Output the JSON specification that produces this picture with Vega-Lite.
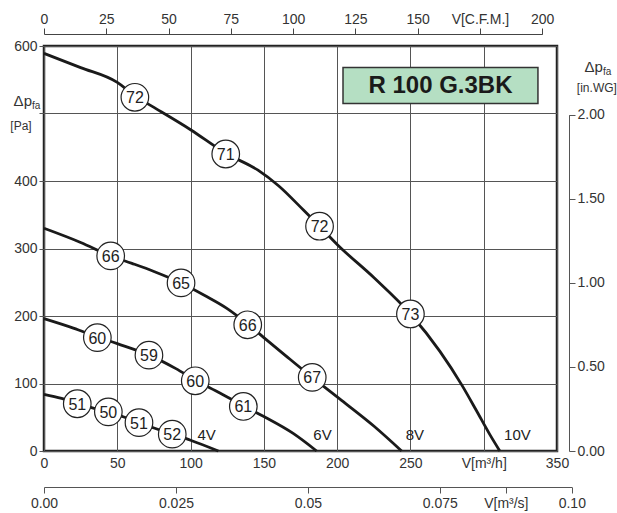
{
  "$schema": "https://vega.github.io/schema/vega-lite/v6.json",
  "width": 513,
  "height": 405,
  "autosize": {"type": "none"},
  "padding": {"left": 44, "top": 46, "right": 60, "bottom": 62},
  "background": "white",
  "config": {
    "view": {"stroke": "#222", "strokeWidth": 2.5},
    "font": "Liberation Sans",
    "axis": {"labelFont": "Liberation Sans", "labelFontSize": 14, "labelColor": "#333", "tickColor": "#444", "domainColor": "#444"}
  },
  "datasets": {
    "curves": [
      {"v": "10V", "q": 0, "p": 589}, {"v": "10V", "q": 25, "p": 568}, {"v": "10V", "q": 50, "p": 546}, {"v": "10V", "q": 62, "p": 526},
      {"v": "10V", "q": 75, "p": 509}, {"v": "10V", "q": 100, "p": 476}, {"v": "10V", "q": 124, "p": 441}, {"v": "10V", "q": 146, "p": 416},
      {"v": "10V", "q": 160, "p": 393}, {"v": "10V", "q": 177, "p": 357}, {"v": "10V", "q": 188, "p": 333}, {"v": "10V", "q": 200, "p": 306},
      {"v": "10V", "q": 225, "p": 257}, {"v": "10V", "q": 250, "p": 203}, {"v": "10V", "q": 270, "p": 148}, {"v": "10V", "q": 285, "p": 98},
      {"v": "10V", "q": 295, "p": 60}, {"v": "10V", "q": 304, "p": 25}, {"v": "10V", "q": 311, "p": 0},
      {"v": "8V", "q": 0, "p": 330}, {"v": "8V", "q": 25, "p": 309}, {"v": "8V", "q": 45.5, "p": 289}, {"v": "8V", "q": 60, "p": 278},
      {"v": "8V", "q": 75, "p": 266}, {"v": "8V", "q": 93.5, "p": 249}, {"v": "8V", "q": 110, "p": 230}, {"v": "8V", "q": 125, "p": 211},
      {"v": "8V", "q": 139, "p": 188}, {"v": "8V", "q": 150, "p": 168}, {"v": "8V", "q": 165, "p": 141}, {"v": "8V", "q": 183, "p": 109},
      {"v": "8V", "q": 203, "p": 75}, {"v": "8V", "q": 225, "p": 37}, {"v": "8V", "q": 244, "p": 0},
      {"v": "6V", "q": 0, "p": 196}, {"v": "6V", "q": 20, "p": 182}, {"v": "6V", "q": 36.4, "p": 169}, {"v": "6V", "q": 50, "p": 159},
      {"v": "6V", "q": 71.6, "p": 142}, {"v": "6V", "q": 90, "p": 122}, {"v": "6V", "q": 103.2, "p": 105}, {"v": "6V", "q": 120, "p": 86},
      {"v": "6V", "q": 136, "p": 67}, {"v": "6V", "q": 150, "p": 51}, {"v": "6V", "q": 170, "p": 26}, {"v": "6V", "q": 186, "p": 0},
      {"v": "4V", "q": 0, "p": 84}, {"v": "4V", "q": 12, "p": 78}, {"v": "4V", "q": 22.7, "p": 70}, {"v": "4V", "q": 33, "p": 64},
      {"v": "4V", "q": 43.9, "p": 58}, {"v": "4V", "q": 55, "p": 50}, {"v": "4V", "q": 64.8, "p": 42}, {"v": "4V", "q": 75, "p": 34},
      {"v": "4V", "q": 87.5, "p": 25}, {"v": "4V", "q": 100, "p": 16}, {"v": "4V", "q": 119, "p": 0}
    ],
    "levels": [
      {"q": 62, "p": 524, "db": "72"}, {"q": 124, "p": 440, "db": "71"}, {"q": 188, "p": 333, "db": "72"}, {"q": 250, "p": 203, "db": "73"},
      {"q": 45.5, "p": 289, "db": "66"}, {"q": 93.5, "p": 249, "db": "65"}, {"q": 139, "p": 187, "db": "66"}, {"q": 183, "p": 109, "db": "67"},
      {"q": 36.4, "p": 168, "db": "60"}, {"q": 71.6, "p": 142, "db": "59"}, {"q": 103.2, "p": 104, "db": "60"}, {"q": 136, "p": 66, "db": "61"},
      {"q": 22.7, "p": 70, "db": "51"}, {"q": 43.9, "p": 58, "db": "50"}, {"q": 64.8, "p": 42, "db": "51"}, {"q": 87.5, "p": 25, "db": "52"}
    ],
    "volts": [
      {"q": 111, "p": 24, "t": "4V"}, {"q": 190, "p": 24, "t": "6V"}, {"q": 253, "p": 24, "t": "8V"}, {"q": 323, "p": 24, "t": "10V"}
    ],
    "box": [{"x1": 204, "x2": 337, "y1": 515, "y2": 568, "t": "R 100 G.3BK", "xm": 270.5, "ym": 541.5}],
    "titlesBig": [{"q": -8.2, "p": 511, "t": "Δp"}, {"q": 381.3, "p": 561.5, "t": "Δp"}],
    "titlesSub": [{"q": -8.2, "p": 507, "t": "fa"}, {"q": 381.3, "p": 557.5, "t": "fa"}],
    "titlesUnit": [{"q": -15.7, "p": 482, "t": "[Pa]"}, {"q": 377.2, "p": 537.8, "t": "[in.WG]"}]
  },
  "layer": [
    {
      "layer": [
        {
          "data": {"name": "box"},
          "mark": {"type": "rect", "fill": "#b5dfc3", "stroke": "#333", "strokeWidth": 1.5},
          "encoding": {
            "x": {"field": "x1", "type": "quantitative", "title": null, "scale": {"domain": [0, 350], "nice": false},
              "axis": {"values": [0, 50, 100, 150, 200, 250, 300, 350], "labelExpr": "datum.value == 300 ? 'V[m³/h]' : datum.label", "ticks": false, "domain": false, "grid": true, "gridColor": "#555", "gridWidth": 1, "labelPadding": 5, "labelFlush": false, "labelOverlap": false}},
            "x2": {"field": "x2"},
            "y": {"field": "y1", "type": "quantitative", "title": null, "scale": {"domain": [0, 600], "nice": false},
              "axis": {"values": [0, 100, 200, 300, 400, 500, 600], "labelExpr": "datum.value == 500 ? '' : datum.label", "ticks": true, "tickSize": 5, "tickColor": "#555", "domain": false, "grid": true, "gridColor": "#555", "gridWidth": 1, "labelPadding": 2, "labelFlush": false, "labelOverlap": false}},
            "y2": {"field": "y2"}
          }
        },
        {
          "data": {"name": "box"},
          "mark": {"type": "text", "fontSize": 24, "fontWeight": "bold", "color": "#1a1a1a", "align": "center", "baseline": "middle", "dy": 1},
          "encoding": {
            "x": {"field": "xm", "type": "quantitative", "title": null},
            "y": {"field": "ym", "type": "quantitative", "title": null},
            "text": {"field": "t"}
          }
        },
        {
          "data": {"name": "curves"},
          "mark": {"type": "line", "color": "#1a1a1a", "strokeWidth": 2.8, "interpolate": "monotone"},
          "encoding": {
            "x": {"field": "q", "type": "quantitative", "title": null},
            "y": {"field": "p", "type": "quantitative", "title": null},
            "detail": {"field": "v"}
          }
        },
        {
          "data": {"name": "levels"},
          "mark": {"type": "point", "shape": "circle", "filled": true, "fill": "white", "stroke": "#222", "strokeWidth": 1.2, "size": 760, "opacity": 1},
          "encoding": {
            "x": {"field": "q", "type": "quantitative", "title": null},
            "y": {"field": "p", "type": "quantitative", "title": null}
          }
        },
        {
          "data": {"name": "levels"},
          "mark": {"type": "text", "fontSize": 16, "color": "#222", "align": "center", "baseline": "middle", "dy": 1},
          "encoding": {
            "x": {"field": "q", "type": "quantitative", "title": null},
            "y": {"field": "p", "type": "quantitative", "title": null},
            "text": {"field": "db"}
          }
        },
        {
          "data": {"name": "volts"},
          "mark": {"type": "text", "fontSize": 15, "color": "#222", "align": "center", "baseline": "middle"},
          "encoding": {
            "x": {"field": "q", "type": "quantitative", "title": null},
            "y": {"field": "p", "type": "quantitative", "title": null},
            "text": {"field": "t"}
          }
        },
        {
          "data": {"name": "titlesBig"},
          "mark": {"type": "text", "fontSize": 15, "color": "#333", "align": "right", "baseline": "alphabetic", "clip": false},
          "encoding": {
            "x": {"field": "q", "type": "quantitative", "title": null},
            "y": {"field": "p", "type": "quantitative", "title": null},
            "text": {"field": "t"}
          }
        },
        {
          "data": {"name": "titlesSub"},
          "mark": {"type": "text", "fontSize": 10, "color": "#333", "align": "left", "baseline": "alphabetic", "clip": false},
          "encoding": {
            "x": {"field": "q", "type": "quantitative", "title": null},
            "y": {"field": "p", "type": "quantitative", "title": null},
            "text": {"field": "t"}
          }
        },
        {
          "data": {"name": "titlesUnit"},
          "mark": {"type": "text", "fontSize": 12, "color": "#333", "align": "center", "baseline": "middle", "clip": false},
          "encoding": {
            "x": {"field": "q", "type": "quantitative", "title": null},
            "y": {"field": "p", "type": "quantitative", "title": null},
            "text": {"field": "t"}
          }
        }
      ]
    },
    {
      "data": {"values": [{"c": 0}, {"c": 200}]},
      "mark": {"type": "point", "opacity": 0},
      "encoding": {
        "x": {"field": "c", "type": "quantitative", "title": null, "scale": {"domain": [0, 200], "range": [0, 498.2], "nice": false},
          "axis": {"orient": "top", "offset": 12, "values": [0, 25, 50, 75, 100, 125, 150, 175, 200], "labelExpr": "datum.value == 175 ? 'V[C.F.M.]' : datum.label", "tickSize": 6, "grid": false, "domainColor": "#444", "labelPadding": 2, "labelFlush": false, "labelOverlap": false}}
      }
    },
    {
      "data": {"values": [{"s": 0}, {"s": 0.1}]},
      "mark": {"type": "point", "opacity": 0},
      "encoding": {
        "x": {"field": "s", "type": "quantitative", "title": null, "scale": {"domain": [0, 0.1], "range": [0, 527.8], "nice": false},
          "axis": {"orient": "bottom", "offset": 36, "values": [0, 0.025, 0.05, 0.075, 0.0875, 0.1], "labelExpr": "abs(datum.value - 0.0875) < 0.0001 ? 'V[m³/s]' : datum.value == 0 ? '0.00' : abs(datum.value - 0.1) < 0.0001 ? '0.10' : abs(datum.value - 0.05) < 0.0001 ? '0.05' : format(datum.value, '.3f')", "tickSize": 6, "grid": false, "domainColor": "#555", "tickColor": "#555", "labelPadding": 3, "labelFlush": false, "labelOverlap": false}}
      }
    },
    {
      "data": {"values": [{"w": 0}, {"w": 2}]},
      "mark": {"type": "point", "opacity": 0},
      "encoding": {
        "y": {"field": "w", "type": "quantitative", "title": null, "scale": {"domain": [0, 2], "range": [405, 68.7], "nice": false},
          "axis": {"orient": "right", "offset": 12, "values": [0, 0.5, 1, 1.5, 2], "format": ".2f", "tickSize": 6, "grid": false, "domainColor": "#555", "tickColor": "#555", "labelPadding": 2, "labelFlush": false, "labelOverlap": false}}
      }
    }
  ],
  "resolve": {"scale": {"x": "independent", "y": "independent"}}
}
